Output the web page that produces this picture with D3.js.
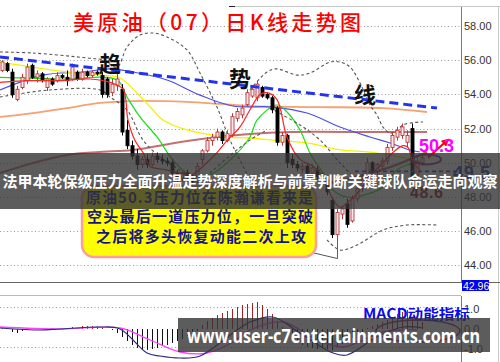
<!DOCTYPE html>
<html>
<head>
<meta charset="utf-8">
<script src="https://cdn.jsdelivr.net/npm/d3@7"></script>
<style>
  body { margin: 0; background: #fff; }
  svg { display: block; }
</style>
</head>
<body>
<script>
const width = 500, height = 362

// daily candles, bar 0 at the left edge
const opens = [55.4,55.8,55.3,53.7,54.4,54.8,55.7,55.0,55.2,54.4,
  54.9,54.8,55.1,55.0,54.9,55.3,54.9,55.3,55.1,55.3,
  55.1,54.9,54.1,54.5,54.3,51.9,51.0,50.4,49.9,50.2,
  49.9,50.4,50.2,50.1,50.0,49.4,49.1,49.4,49.1,48.9,
  50.2,50.7,51.3,51.5,51.8,51.3,51.6,52.6,52.8,53.4,
  53.9,53.8,54.4,54.0,53.8,53.2,51.2,51.6,50.2,49.9,
  49.6,49.8,49.4,49.6,49.2,49.0,47.8,45.8,47.0,47.6,
  46.6,47.9,48.5,49.1,50.0,49.5,49.8,50.1,50.9,51.5,
  51.6,51.2,52.0,49.3,50.0]
const highs = [56.0,55.9,55.5,54.5,55.2,55.8,55.8,55.4,55.3,55.0,
  55.0,55.3,55.2,55.4,55.8,55.4,55.5,55.4,55.4,55.4,
  55.3,55.0,54.9,55.2,54.6,52.5,51.3,50.8,50.4,50.5,
  50.6,50.6,50.5,50.3,50.2,49.6,49.5,49.6,49.3,50.0,
  50.8,51.5,51.7,52.0,51.9,51.9,52.9,53.2,53.4,54.3,
  54.5,54.8,54.5,54.1,53.9,53.3,51.8,51.7,50.5,50.1,
  50.0,49.9,49.9,49.8,49.4,49.1,48.0,47.3,47.5,47.9,
  48.1,48.7,49.3,50.3,50.1,50.0,50.3,51.1,51.8,52.1,
  52.3,51.9,52.3,50.4,50.5]
const lows = [55.3,55.3,53.8,53.6,54.3,54.6,54.9,54.7,54.7,54.2,
  54.5,54.7,54.9,54.5,54.8,54.8,54.8,55.0,55.0,55.1,
  53.8,53.8,53.9,54.2,51.6,50.8,50.2,49.6,49.7,49.7,
  49.8,50.0,49.9,49.8,49.2,48.9,48.9,48.9,48.6,48.8,
  49.9,50.6,51.0,51.3,51.1,51.2,51.5,52.4,52.6,53.3,
  53.8,53.6,53.8,53.7,52.9,51.0,51.0,49.7,49.7,49.5,
  49.4,49.2,49.2,49.0,48.8,48.1,45.6,44.4,46.7,46.2,
  46.5,47.7,48.3,48.9,49.3,49.3,49.6,49.9,50.7,51.3,
  51.4,50.9,48.9,49.0,49.8]
const closes = [55.9,55.4,54.0,54.3,55.0,55.6,55.0,55.2,54.8,54.9,
  54.6,55.1,55.0,54.8,55.6,54.9,55.3,55.1,55.3,55.2,
  54.0,54.0,54.6,54.9,51.8,51.0,50.4,49.9,50.2,49.9,
  50.4,50.2,50.1,50.0,49.4,49.2,49.4,49.1,48.9,49.8,
  50.7,51.3,51.5,51.8,51.3,51.7,52.7,53.0,53.2,54.1,
  54.3,54.6,53.9,53.8,53.1,51.2,51.6,50.0,49.9,49.7,
  49.8,49.4,49.7,49.2,49.0,48.3,45.8,47.1,47.3,46.4,
  47.9,48.5,49.0,50.0,49.5,49.9,50.1,50.9,51.6,51.9,
  52.1,51.6,49.1,50.1,50.3]

// indicator lines as [bar, price]
const ma5 = [[-0.4,54.7],[5.6,54.8],[11.6,54.8],[17.6,54.9],[21.6,54.7],[24.2,54.3],[25.2,52.5],[26.6,51.3],[28.2,50.6],[29.6,49.8],[32.6,49.6],[35.6,49.4],[38,49.3],[40.2,49.8],[43,50.6],[45,51.3],[47.6,52.1],[49.6,53.1],[51.6,54.0],[53,54.1],[55,53.7],[57,51.5],[59.6,50.2],[62.2,49.8],[64.6,49.1],[65.6,48.2],[67.6,47.4],[69.6,47.8],[71,48.2],[73.6,49.2],[76.2,50.0],[78.2,50.6],[80.2,51.0],[81.2,50.9],[82.2,50.0],[83.6,49.6]]
const ma10 = [[-0.4,55.0],[11.6,54.9],[23,54.84],[25,53.85],[27.6,52.68],[31,51.51],[34.2,50.16],[37.6,49.3],[41.6,49.3],[45.6,50.16],[49.6,51.51],[51,52.5],[55,53.38],[57,52.97],[59.6,51.92],[61.6,50.57],[64.2,49.4],[66.2,48.41],[69,48.0],[72.6,48.12],[76.2,48.58],[79,49.58],[81,49.87],[83.6,49.99]]
const ma20 = [[-0.4,55.89],[6.2,55.6],[13,55.31],[19.6,55.13],[23.6,54.96],[27,54.08],[30.2,53.09],[32.2,52.5],[37,51.92],[45,51.51],[49.2,51.45],[54.2,51.33],[61,51.16],[67.6,50.75],[73.6,50.63],[78.6,50.4],[83.6,50.05]]
const ma60 = [[-0.4,54.26],[8.2,55.13],[16.2,55.31],[21.6,55.49],[26.2,55.31],[33,54.84],[39.6,53.96],[46.2,53.32],[54.2,53.26],[61,52.91],[67.6,52.09],[73.6,51.51],[77.6,51.16],[81.6,50.75],[83.6,50.63]]
const ma120 = [[-0.4,52.68],[6.2,52.91],[13,53.2],[19.6,53.5],[26.2,53.61],[37,53.56],[43.6,53.44],[49.6,53.32],[63,53.26],[76.2,53.2],[85,52.97]]
const ma250 = [[-0.4,49.4],[6.2,49.99],[13,50.46],[19.6,50.63],[26.2,50.75],[37,51.27],[49.6,51.68],[57.6,51.8],[73.6,51.8],[85,51.8]]
const supportLine = [[65.6,48.82],[71.6,49.23],[77.6,49.75],[85,50.63]]
const trendLine = [[-0.4,56.19],[87,53.2]]
const level495 = [[70.6,49.5],[91,49.5]]

// hand drawn dashed curves
const sketchA = [[-0.4,56.48],[6.2,56.42],[17,56.13],[20.2,56.01],[23,55.6],[25,56.77],[27.6,57.47],[30.2,57.59],[33,57.36],[37,56.6],[39.6,55.25],[43,53.26],[45.6,51.33],[48.6,49.58],[51.6,47.82]]
const sketchB = [[-0.4,53.85],[9.6,54.26],[19.6,54.26],[21.6,53.85],[25,53.09],[28.2,51.33],[31.6,50.34],[35.6,49.58],[39.6,48.82]]
const sketchC = [[41.6,49.4],[46.2,50.57],[49.6,51.33],[53,51.92]]
const sketchD = [[49.6,54.26],[53,55.31],[55,55.49],[59,55.13],[61.6,55.25],[65.6,55.89],[67.6,55.89],[69.6,55.6],[71.6,54.67],[73.6,53.38],[75,52.79],[76.2,52.09],[77.6,51.74],[79,51.92],[80.2,52.21],[81.6,52.33],[84.2,52.39]]
const sketchE = [[53.6,53.2],[59.6,52.21],[63.6,51.33],[67.6,49.99],[70.6,49.11]]
const sketchF = [[65,45.49],[67.6,44.9],[71,45.19],[76.2,46.07],[81,46.36],[87,46.36]]

const priceTicks = [58, 56, 54, 52, 50, 48, 46, 44]
const macdTicks = [1, 0, -1]

const macdHist = [0.05,0.0,-0.15,-0.2,-0.1,-0.05,0.0,0.05,0.0,-0.05,
  -0.05,0.0,0.0,0.05,0.1,0.05,0.15,0.15,0.15,0.15,
  0.1,0.0,-0.05,-0.2,-0.4,-0.6,-0.8,-0.95,-1.0,-1.05,
  -1.0,-0.95,-0.85,-0.8,-0.7,-0.6,-0.5,-0.35,-0.25,-0.1,
  0.2,0.4,0.55,0.7,0.8,0.9,1.0,1.1,1.2,1.25,
  1.3,1.35,1.2,1.0,0.75,0.4,0.1,-0.3,-0.5,-0.7,
  -0.8,-0.9,-0.95,-1.0,-0.95,-1.0,-1.05,-0.9,-0.75,-0.6,
  -0.45,-0.3,-0.15,0.05,0.15,0.25,0.35,0.45,0.6,0.75,
  0.85,0.95,0.6,0.4,0.35]
const dif = [[-0.4,0.05],[7.6,-0.05],[11.6,0],[19.6,0.1],[23.6,0],[29,-1.2],[31.6,-1.35],[35.6,-1.45],[39.6,-1.35],[46.2,-0.2],[49.6,0.35],[54.2,0.6],[59.6,-0.2],[66.2,-1.2],[69,-1.3],[75,-0.4],[80.2,0.1],[84.2,0.05]]
const dea = [[-0.4,0.1],[11.6,0],[23.6,0.05],[29.6,-0.55],[35.6,-1.15],[41,-1.2],[46.2,-0.65],[49.6,-0.05],[56.2,0.35],[63,-0.55],[68.2,-0.9],[76.2,-0.15],[83,-0.05]]

const x = d3.scaleLinear().domain([0, 91.8]).range([2, 461])
const y = d3.scaleLinear().domain([44, 58]).range([265.4, 26])
const ym = d3.scaleLinear().domain([-1, 1]).range([349, 309])

const upColor = "#b8383a"

const svg = d3.select("body").append("svg")
    .attr("width", width)
    .attr("height", height)
    .style("font-family", "'Noto Sans CJK SC', sans-serif")

// frame
svg.append("line").attr("x1", 232).attr("x2", 500).attr("y1", 6.5).attr("y2", 6.5)
    .style("stroke", "#c8c8c8")
svg.append("line").attr("x1", 229).attr("x2", 235).attr("y1", 6.5).attr("y2", 6.5)
    .style("stroke", "#222")
svg.append("line").attr("x1", 461.5).attr("x2", 461.5).attr("y1", 7).attr("y2", 282)
    .style("stroke", "#777")
svg.append("line").attr("x1", 461.5).attr("x2", 461.5).attr("y1", 296).attr("y2", 362)
    .style("stroke", "#777")
svg.append("line").attr("x1", 498.5).attr("x2", 498.5).attr("y1", 7).attr("y2", 362)
    .style("stroke", "#ccc")
svg.append("line").attr("x1", 0).attr("x2", 500).attr("y1", 282.5).attr("y2", 282.5)
    .style("stroke", "#666")
svg.append("line").attr("x1", 0).attr("x2", 461).attr("y1", 295.5).attr("y2", 295.5)
    .style("stroke", "#bbb")

// dotted grid
svg.selectAll(".grid")
    .data(priceTicks)
    .enter().append("line")
      .attr("class", "grid")
      .attr("x1", 0).attr("x2", 461)
      .attr("y1", d => Math.round(y(d)) + 0.5)
      .attr("y2", d => Math.round(y(d)) + 0.5)
      .style("stroke", "#9a9a9a")
      .style("stroke-dasharray", "1,2.5")

svg.selectAll(".mgrid")
    .data([1, -1])
    .enter().append("line")
      .attr("class", "mgrid")
      .attr("x1", 0).attr("x2", 461)
      .attr("y1", d => Math.round(ym(d)) - 1.5)
      .attr("y2", d => Math.round(ym(d)) - 1.5)
      .style("stroke", "#9a9a9a")
      .style("stroke-dasharray", "1,2.5")

const curve = d3.line()
    .x(d => x(d[0]))
    .y(d => y(d[1]))
    .curve(d3.curveCatmullRom.alpha(0.5))

const straight = d3.line()
    .x(d => x(d[0]))
    .y(d => y(d[1]))

const maLines = [
  { pts: ma250, color: "#c27070", w: 2 },
  { pts: ma120, color: "#f6a074", w: 1.8 },
  { pts: ma60, color: "#4e4ee8", w: 1.2 },
  { pts: ma20, color: "#f2f200", w: 1.3 },
  { pts: ma10, color: "#18dc18", w: 1.2 }
]

svg.selectAll(".ma")
    .data(maLines)
    .enter().append("path")
      .attr("class", "ma")
      .attr("d", d => curve(d.pts))
      .style("fill", "none")
      .style("stroke", d => d.color)
      .style("stroke-width", d => d.w)

svg.append("path")
    .attr("d", curve(supportLine))
    .style("fill", "none")
    .style("stroke", "#b4605a")
    .style("stroke-width", 2.5)

svg.selectAll(".sketch")
    .data([sketchA, sketchB, sketchC, sketchD, sketchE, sketchF])
    .enter().append("path")
      .attr("class", "sketch")
      .attr("d", d => curve(d))
      .style("fill", "none")
      .style("stroke", "#555")
      .style("stroke-width", 1.1)
      .style("stroke-dasharray", "3,2.5")

// candles
const bars = opens.map((o, i) => ({ i: i, o: o, h: highs[i], l: lows[i], c: closes[i] }))

svg.selectAll(".wick")
    .data(bars)
    .enter().append("line")
      .attr("class", "wick")
      .attr("x1", d => Math.round(x(d.i)) + 0.5)
      .attr("x2", d => Math.round(x(d.i)) + 0.5)
      .attr("y1", d => y(d.h))
      .attr("y2", d => y(d.l))
      .style("stroke", d => d.c >= d.o ? upColor : "#000")

svg.selectAll(".body")
    .data(bars)
    .enter().append("rect")
      .attr("class", "body")
      .attr("x", d => Math.round(x(d.i)) - 1)
      .attr("y", d => y(Math.max(d.o, d.c)))
      .attr("width", 3)
      .attr("height", d => Math.max(1, Math.abs(y(d.o) - y(d.c))))
      .style("fill", d => d.c >= d.o ? "#fbe8e8" : "#000")
      .style("stroke", d => d.c >= d.o ? upColor : "#000")
      .style("stroke-width", 0.9)

svg.append("path")
    .attr("d", curve(ma5))
    .style("fill", "none")
    .style("stroke", "#ff2222")
    .style("stroke-width", 1.2)

svg.append("path")
    .attr("d", straight(trendLine))
    .style("fill", "none")
    .style("stroke", "#2233ee")
    .style("stroke-width", 3)
    .style("stroke-dasharray", "9,5")

svg.append("path")
    .attr("d", straight(level495))
    .style("fill", "none")
    .style("stroke", "#2a3acc")
    .style("stroke-width", 1.6)
    .style("stroke-dasharray", "4,3")

// big trend characters
svg.selectAll(".trendWord")
    .data([{ t: "趋", i: 21.6, p: 55.3 }, { t: "势", i: 47.6, p: 54.45 }, { t: "线", i: 72.6, p: 53.5 }])
    .enter().append("text")
      .attr("class", "trendWord")
      .attr("x", d => x(d.i))
      .attr("y", d => y(d.p))
      .attr("text-anchor", "middle")
      .style("font-size", "22px")
      .style("font-weight", "bold")
      .style("fill", "#111")
      .text(d => d.t)

svg.append("text")
    .attr("x", 73)
    .attr("y", 30)
    .attr("textLength", 288)
    .attr("lengthAdjust", "spacing")
    .style("font-size", "21px")
    .style("font-weight", 500)
    .style("fill", "#ff0000")
    .text("美原油（07）日K线走势图")

// price axis
const axis = svg.append("g")
    .attr("transform", "translate(462, 0)")
    .call(d3.axisRight(y).tickValues(priceTicks).tickSize(0).tickPadding(2).tickFormat(d => d.toFixed(2)))
axis.select(".domain").remove()
axis.selectAll("text")
    .style("font-family", "'Liberation Sans', Arial, sans-serif")
    .style("font-size", "11px")
    .style("fill", "#333")

// annotations on the right
svg.append("ellipse")
    .attr("cx", x(85))
    .attr("cy", y(50.2))
    .attr("rx", 14)
    .attr("ry", 5)
    .style("fill", "none")
    .style("stroke", "#8a2a9a")
    .style("stroke-width", 2)

svg.append("defs").append("marker")
    .attr("id", "head")
    .attr("viewBox", "0 0 10 10")
    .attr("refX", 6).attr("refY", 5)
    .attr("markerWidth", 4).attr("markerHeight", 4)
    .attr("orient", "auto")
  .append("path")
    .attr("d", "M0,0L10,5L0,10z")
    .style("fill", "#ff0000")

svg.append("line")
    .attr("x1", x(85.2)).attr("y1", y(50.3))
    .attr("x2", x(89)).attr("y2", y(51.3))
    .attr("marker-end", "url(#head)")
    .style("stroke", "#ff0000")
    .style("stroke-width", 2)

svg.append("text")
    .attr("x", 419).attr("y", 152)
    .style("font-family", "'Liberation Sans', Arial, sans-serif")
    .style("font-size", "18px")
    .style("font-weight", "bold")
    .style("fill", "#ff00ff")
    .text("50.3")

svg.append("text")
    .attr("x", 453).attr("y", 179)
    .attr("textLength", 37)
    .attr("lengthAdjust", "spacing")
    .style("font-family", "'Liberation Sans', Arial, sans-serif")
    .style("font-size", "18px")
    .style("font-weight", "bold")
    .style("fill", "#2244aa")
    .text("49.5")

svg.append("text")
    .attr("x", 410).attr("y", 198)
    .attr("textLength", 33)
    .attr("lengthAdjust", "spacing")
    .style("font-family", "'Liberation Sans', Arial, sans-serif")
    .style("font-size", "16px")
    .style("font-weight", "bold")
    .style("fill", "#8b1c1c")
    .text("48.6")

svg.append("rect")
    .attr("x", 462).attr("y", 280)
    .attr("width", 27).attr("height", 11)
    .style("fill", "#0000ff")
svg.append("text")
    .attr("x", 463).attr("y", 289.5)
    .style("font-family", "'Liberation Sans', Arial, sans-serif")
    .style("font-size", "10.5px")
    .style("fill", "#ffffa8")
    .text("42.96")

// MACD panel
svg.selectAll(".hist")
    .data(macdHist)
    .enter().append("line")
      .attr("class", "hist")
      .attr("x1", (d, i) => Math.round(x(i)) + 0.5)
      .attr("x2", (d, i) => Math.round(x(i)) + 0.5)
      .attr("y1", ym(0))
      .attr("y2", d => ym(d))
      .style("stroke", d => d >= 0 ? "#a82020" : "#111")

const macdLine = d3.line()
    .x(d => x(d[0]))
    .y(d => ym(d[1]))
    .curve(d3.curveCatmullRom.alpha(0.5))

svg.append("path")
    .attr("d", macdLine(dea))
    .style("fill", "none")
    .style("stroke", "#ff44ff")
    .style("stroke-width", 1.3)

svg.append("path")
    .attr("d", macdLine(dif))
    .style("fill", "none")
    .style("stroke", "#2c2c88")
    .style("stroke-width", 1.2)

svg.append("ellipse")
    .attr("cx", x(83.2))
    .attr("cy", ym(-0.1))
    .attr("rx", 42)
    .attr("ry", 11)
    .style("fill", "none")
    .style("stroke", "#8a2a8a")
    .style("stroke-width", 1.5)

const maxis = svg.append("g")
    .attr("transform", "translate(462, 0)")
    .call(d3.axisRight(ym).tickValues(macdTicks).tickSize(0).tickPadding(2).tickFormat(d => d.toFixed(1).replace("-0.0", "0.0")))
maxis.select(".domain").remove()
maxis.selectAll("text")
    .style("font-family", "'Liberation Sans', Arial, sans-serif")
    .style("font-size", "11px")
    .style("fill", "#333")

svg.append("text")
    .attr("x", 363).attr("y", 319)
    .attr("textLength", 107)
    .attr("lengthAdjust", "spacingAndGlyphs")
    .style("font-size", "14px")
    .style("font-weight", "bold")
    .style("fill", "#0a0aee")
    .text("MACD动能指标")

// comment box
svg.append("line")
    .attr("x1", 314).attr("y1", 253)
    .attr("x2", Math.round(x(67)) + 0.5).attr("y2", y(44.4))
    .style("stroke", "#555")

svg.append("rect")
    .attr("x", 82).attr("y", 186)
    .attr("width", 234).attr("height", 71)
    .attr("rx", 12)
    .style("fill", "#ffff00")
    .style("stroke", "#ff9c9c")
    .style("stroke-width", 2.5)

const boxLines = [
  { t: "原油50.3压力位在陈瀚谦看来是", x: 86, y: 203, len: 227 },
  { t: "空头最后一道压力位，一旦突破", x: 87, y: 222, len: 226 },
  { t: "之后将多头恢复动能二次上攻", x: 96, y: 242, len: 210 }
]

svg.selectAll(".boxText")
    .data(boxLines)
    .enter().append("text")
      .attr("class", "boxText")
      .attr("x", d => d.x)
      .attr("y", d => d.y)
      .attr("textLength", d => d.len)
      .attr("lengthAdjust", "spacing")
      .style("font-size", "15px")
      .style("font-weight", "bold")
      .style("fill", "#14148c")
      .text(d => d.t)

// overlay banners
svg.append("rect")
    .attr("x", 0).attr("y", 153)
    .attr("width", 500).attr("height", 56)
    .style("fill", "#333")
    .style("opacity", 0.8)

svg.append("text")
    .attr("x", 250).attr("y", 187)
    .attr("text-anchor", "middle")
    .style("font-size", "15px")
    .style("font-weight", "bold")
    .style("fill", "#fff")
    .text("法甲本轮保级压力全面升温走势深度解析与前景判断关键球队命运走向观察")

svg.append("rect")
    .attr("x", 178).attr("y", 318)
    .attr("width", 312).attr("height", 34)
    .style("fill", "#333")
    .style("opacity", 0.8)

svg.append("text")
    .attr("x", 187).attr("y", 343)
    .attr("textLength", 293)
    .attr("lengthAdjust", "spacingAndGlyphs")
    .style("font-family", "'Noto Sans', 'Open Sans', sans-serif")
    .style("font-size", "20px")
    .style("font-weight", "bold")
    .style("fill", "#fff")
    .text("www.user-c7entertainments.com.cn")
</script>
</body>
</html>
